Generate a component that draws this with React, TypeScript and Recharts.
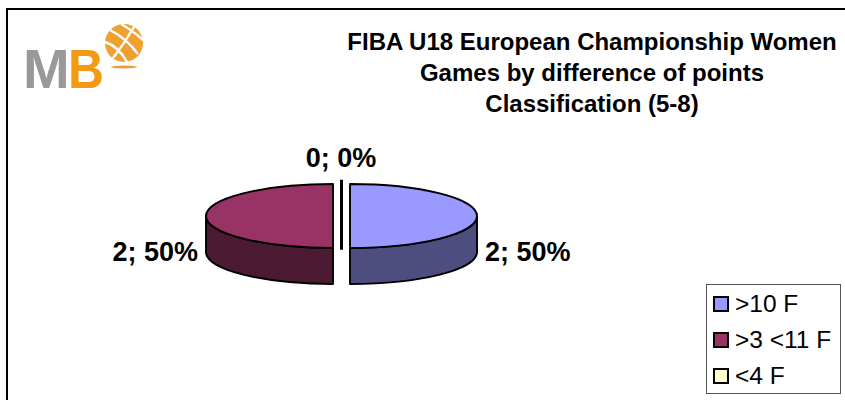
import { PieChart, Pie, Legend } from 'recharts'

const categories = ['>10 F', '>3 <11 F', '<4 F']
const games = [2, 2, 0]
const topColors = ['#9999FF', '#993366', '#FFFFCC']
const sideColors = ['#4D4D80', '#4D1A33', '#808066']
const titleLines = [
  'FIBA U18 European Championship Women',
  'Games by difference of points',
  'Classification (5-8)',
]

const data = categories.map((name, i) => ({
  name,
  value: games[i],
  fill: topColors[i],
  side: sideColors[i],
}))

const RAD = Math.PI / 180
const SQUASH = 0.252
const DEPTH = 36
const EXPLODE = 8.5

// flat sector squashed into an ellipse, with a rim under the front half
function TiltedSlice(props: any) {
  const { cx, cy, outerRadius: r, startAngle, endAngle, fill, side } = props
  const mid = ((startAngle + endAngle) / 2) * RAD
  const ox = cx + EXPLODE * Math.cos(mid)
  const oy = cy - (EXPLODE / 2) * Math.sin(mid)
  const ry = r * SQUASH
  const px = (a: number) => ox + r * Math.cos(a * RAD)
  const py = (a: number) => oy - ry * Math.sin(a * RAD)
  if (endAngle === startAngle) {
    return (
      <path
        d={`M${px(startAngle)} ${py(startAngle)} L${ox} ${oy + DEPTH + 2}`}
        fill="none"
        stroke="#000"
        strokeWidth={3}
      />
    )
  }
  const isLeft = Math.cos(mid) < 0
  const edgeX = isLeft ? ox - r : ox + r
  const x0 = px(startAngle)
  const y0 = py(startAngle)
  const x1 = px(endAngle)
  const y1 = py(endAngle)
  return (
    <g stroke="#000" strokeWidth={1.9} strokeLinejoin="round">
      <path
        d={`M${ox} ${oy + ry} A${r} ${ry} 0 0 ${isLeft ? 1 : 0} ${edgeX} ${oy} L${edgeX} ${oy + DEPTH} A${r} ${ry} 0 0 ${
          isLeft ? 0 : 1
        } ${ox} ${oy + ry + DEPTH} Z`}
        fill={side}
      />
      <path d={`M${ox} ${oy} L${x0} ${y0} A${r} ${ry} 0 0 1 ${x1} ${y1} Z`} fill={fill} />
    </g>
  )
}

function SliceLabel(props: any) {
  const { midAngle, value, percent } = props
  const c = Math.cos(midAngle * RAD)
  const spot = c > 0.5 ? [485, 261, 'start'] : c < -0.5 ? [198, 261, 'end'] : [341, 167, 'middle']
  return (
    <text
      x={spot[0]}
      y={spot[1]}
      textAnchor={spot[2] as any}
      fontFamily="Liberation Sans"
      fontWeight="bold"
      fontSize={27}
      fill="#000"
    >
      {`${value}; ${Math.round(percent * 100)}%`}
    </text>
  )
}

function LegendBox({ payload }: any) {
  return (
    <div
      style={{
        width: 135,
        height: 110,
        boxSizing: 'border-box',
        border: '1px solid #555',
        background: '#fff',
        padding: '1px 0 0 6px',
        fontFamily: 'Liberation Sans',
        fontSize: 24.5,
        color: '#000',
      }}
    >
      {(payload ?? []).map((p: any) => (
        <div key={p.value} style={{ height: 36, display: 'flex', alignItems: 'center' }}>
          <span
            style={{
              width: 12,
              height: 12,
              border: '2px solid #000',
              background: p.payload?.fill ?? p.color,
              marginRight: 6,
            }}
          />
          {p.value}
        </div>
      ))}
    </div>
  )
}

function Logo() {
  return (
    <g>
      <text x={23} y={88} fontFamily="Liberation Sans" fontWeight="bold" fontSize={56} fill="#999999">M</text>
      <text x={68} y={88} fontFamily="Liberation Sans" fontWeight="bold" fontSize={56} fill="#F29A12" textLength={36} lengthAdjust="spacingAndGlyphs">B</text>
      <circle cx={124} cy={43} r={19} fill="#F0A030" />
      <g stroke="#fff" strokeWidth={2.4} fill="none">
        <path d="M110 30 Q126 38 138 54" />
        <path d="M105 42 Q118 46 127 62" />
        <path d="M121 24 Q132 30 143 40" />
        <path d="M134 27 Q124 44 113 58" />
      </g>
      <ellipse cx={124} cy={67} rx={13} ry={1.5} fill="#E8A030" />
    </g>
  )
}

export default function App() {
  return (
    <div style={{ position: 'absolute', left: 0, top: 0, width: 845, height: 400, background: '#fff', overflow: 'hidden' }}>
      <PieChart width={845} height={400} margin={{ top: 0, right: 0, bottom: 0, left: 0 }}>
        <path d="M7 400 L7 9 L845 9" fill="none" stroke="#000" strokeWidth={2} />
        <Logo />
        {titleLines.map((line, i) => (
          <text
            key={line}
            x={592}
            y={50 + i * 31}
            textAnchor="middle"
            fontFamily="Liberation Sans"
            fontWeight="bold"
            fontSize={24}
            fill="#000"
          >
            {line}
          </text>
        ))}
        <Pie
          data={data}
          dataKey="value"
          nameKey="name"
          cx={341.5}
          cy={216}
          outerRadius={127}
          startAngle={90}
          endAngle={-270}
          isAnimationActive={false}
          shape={TiltedSlice}
          label={SliceLabel}
          labelLine={false}
        />
        <Legend
          layout="horizontal"
          verticalAlign="bottom"
          align="left"
          itemSorter={null}
          wrapperStyle={{ left: 706, top: 284, bottom: 'auto', width: 135 }}
          content={LegendBox}
        />
      </PieChart>
    </div>
  )
}
